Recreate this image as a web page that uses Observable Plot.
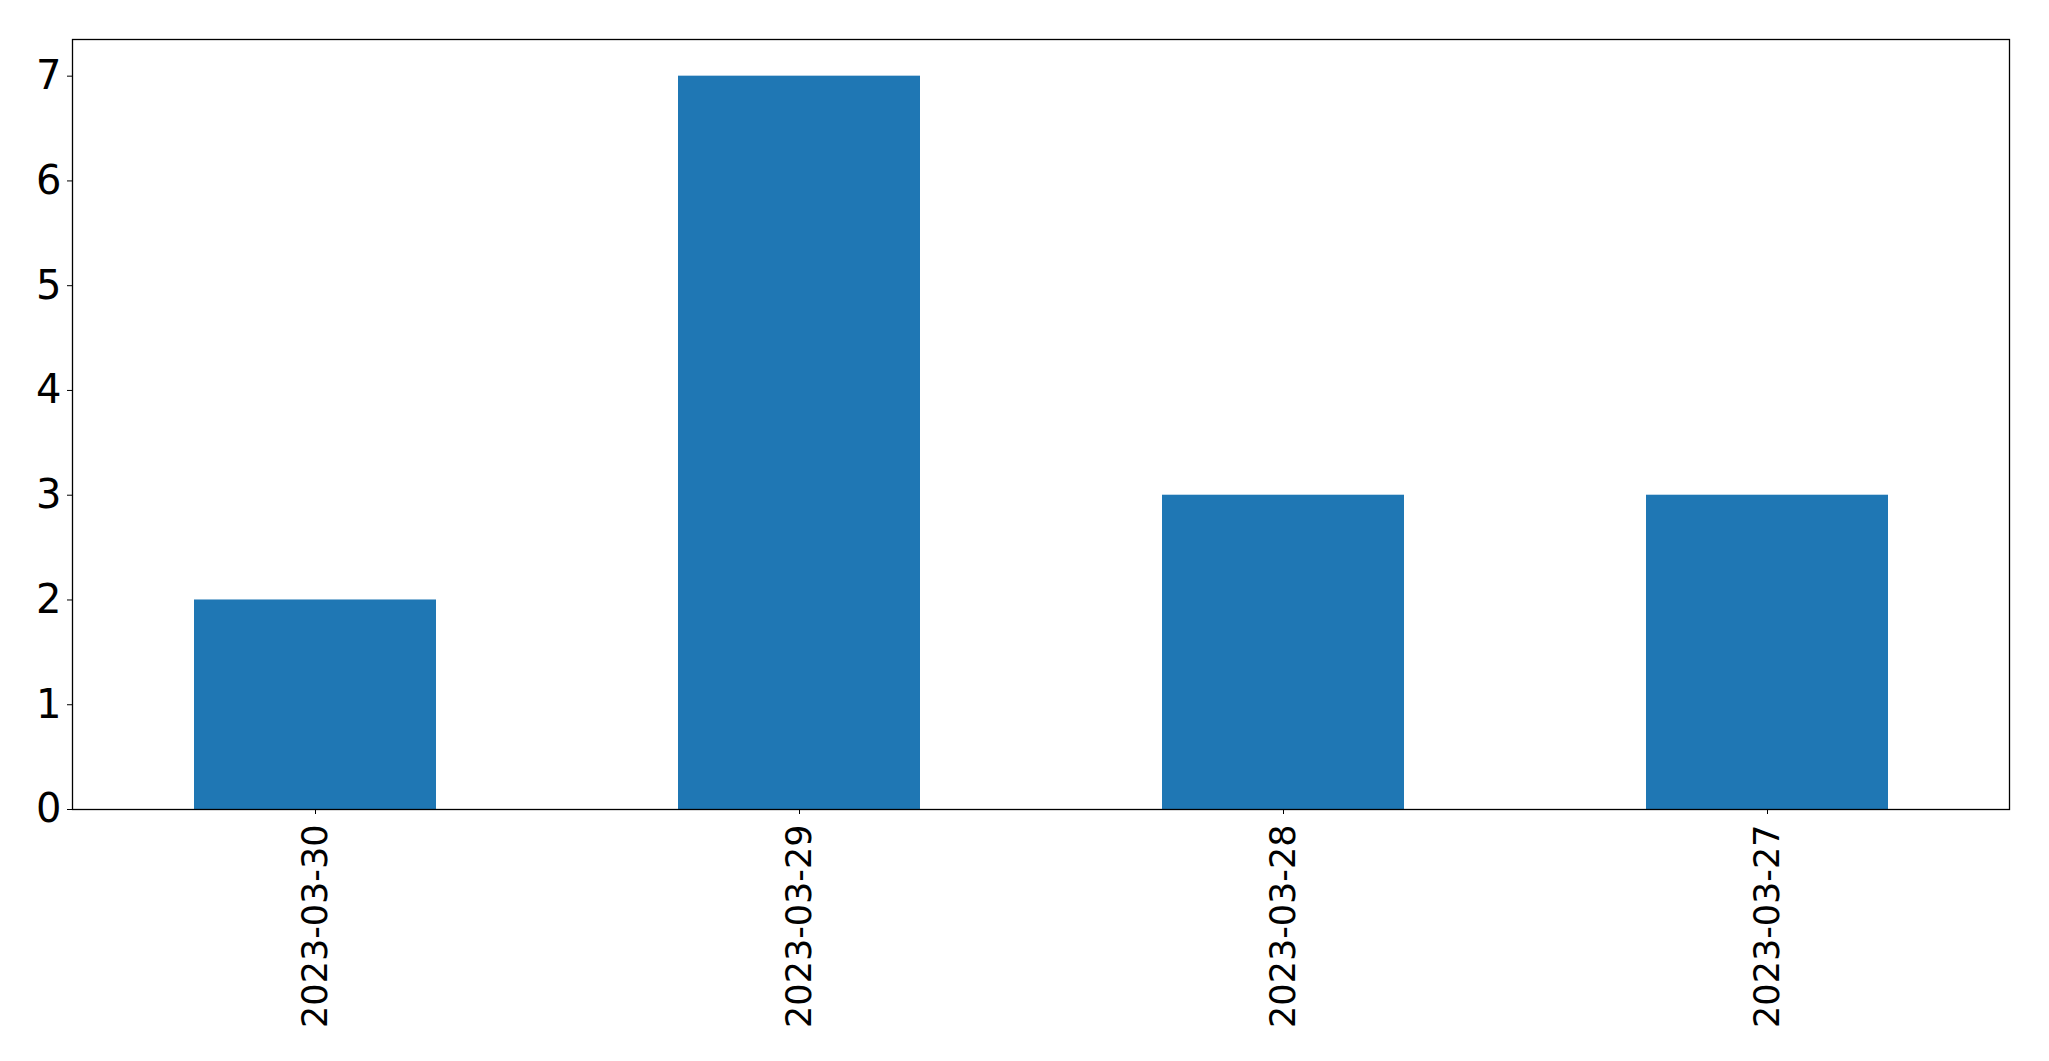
<!DOCTYPE html>
<html>
<head>
<meta charset="utf-8">
<script src="https://cdn.jsdelivr.net/npm/d3@7"></script>
<script src="https://cdn.jsdelivr.net/npm/@observablehq/plot@0.6"></script>
<style>
  html, body { margin: 0; padding: 0; background: #fff; }
  #chart svg { display: block; }
</style>
</head>
<body>
<div id="chart"></div>
<script>
const dates = ["2023-03-30", "2023-03-29", "2023-03-28", "2023-03-27"];
const counts = [2, 7, 3, 3];
const yTicks = [0, 1, 2, 3, 4, 5, 6, 7];

const data = dates.map((d, i) => ({date: d, count: counts[i]}));

const chart = Plot.plot({
  width: 2049,
  height: 1061,
  marginLeft: 72,
  marginRight: 40,
  marginTop: 39,
  marginBottom: 252,
  style: {fontFamily: "DejaVu Sans", fontSize: "36px", color: "#000", background: "#fff"},
  x: {domain: dates, paddingInner: 0.5, paddingOuter: 0.25, label: null},
  y: {domain: [0, 7.35], label: null},
  marks: [
    Plot.barY(data, {x: "date", y: "count", fill: "#1f77b4"}),
    Plot.axisX({tickRotate: -90, tickSize: 5, tickPadding: 10, fontSize: 35, label: null}),
    Plot.axisY({ticks: yTicks, tickSize: 5, tickPadding: 6, fontSize: 40, label: null, tickFormat: d3.format("d")}),
    Plot.frame({stroke: "#000", strokeWidth: 1.3})
  ]
});
document.getElementById("chart").appendChild(chart);
</script>
</body>
</html>
